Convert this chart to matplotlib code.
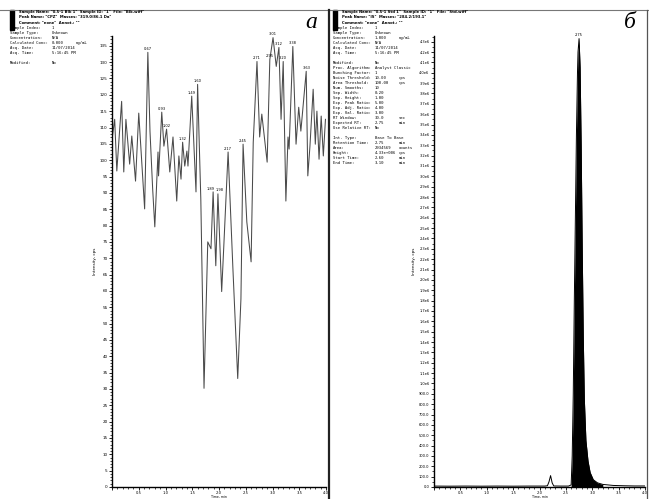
import matplotlib
matplotlib.use('Agg')
import matplotlib.pyplot as plt
from matplotlib.lines import Line2D
from matplotlib.patches import Rectangle
from matplotlib.ticker import MultipleLocator, FuncFormatter

W, H = 649, 499

# --- panel a: noisy trace (time, min / intensity, cps) ---
t_a = [0.00, 0.05, 0.09, 0.18, 0.22, 0.26, 0.33, 0.37, 0.44, 0.50, 0.61, 0.67, 0.71,
       0.76, 0.80, 0.86, 0.87, 0.93, 0.97, 1.02, 1.08, 1.14, 1.21, 1.25, 1.29, 1.32,
       1.36, 1.40, 1.42, 1.49, 1.57, 1.60, 1.66, 1.72, 1.79, 1.85, 1.89, 1.94, 1.98,
       2.05, 2.09, 2.17, 2.26, 2.35, 2.41, 2.45, 2.52, 2.60, 2.64, 2.71, 2.76, 2.80,
       2.90, 2.95, 3.01, 3.07, 3.12, 3.16, 3.20, 3.25, 3.29, 3.31, 3.38, 3.44, 3.49,
       3.53, 3.63, 3.66, 3.70, 3.76, 3.80, 3.83, 3.87, 3.91, 3.95, 3.99]
cps_a = [106.4, 112.5, 96.7, 118.0, 96.4, 112.5, 98.8, 107.4, 93.6, 114.4, 85.1, 133.0, 108.9,
         91.2, 79.6, 102.5, 95.2, 114.7, 104.3, 109.5, 96.4, 107.1, 87.5, 101.3, 94.2, 105.5,
         98.2, 102.8, 98.2, 119.6, 90.3, 123.2, 88.1, 30.2, 75.0, 72.9, 90.3, 67.7, 89.7,
         59.8, 73.8, 102.5, 66.8, 33.2, 57.6, 104.9, 81.1, 68.9, 105.5, 130.2, 107.1, 114.1,
         99.4, 130.8, 137.5, 128.7, 134.5, 112.5, 130.2, 87.5, 107.1, 103.4, 134.8, 104.9, 116.2,
         108.9, 127.2, 95.2, 104.3, 121.7, 104.9, 115.0, 100.3, 113.5, 101.3, 112.5]
labels_a = [11, 17, 19, 25, 29, 31, 36, 38, 41, 45, 49, 53, 54, 56, 58, 62, 66]

# --- panel b: internal standard trace (time, min / intensity, cps) ---
t_b = [0.00, 0.30, 0.60, 0.90, 1.20, 1.50, 1.80, 2.10, 2.15, 2.18, 2.21, 2.24, 2.27, 2.40,
       2.55, 2.60, 2.62, 2.64, 2.66, 2.68, 2.70, 2.72, 2.73, 2.75, 2.77, 2.79, 2.81, 2.83,
       2.85, 2.88, 2.92, 2.96, 3.02, 3.10, 3.20, 3.40, 3.60, 3.80, 4.00]
cps_b = [9e3, 8e3, 9e3, 8e3, 9e3, 8e3, 9e3, 9e3, 1.2e4, 5e4, 1.1e5, 4e4, 1.0e4, 9e3,
         9e3, 2e4, 3.0e5, 9.0e5, 1.8e6, 2.6e6, 3.4e6, 4.0e6, 4.2e6, 4.33e6, 4.05e6, 3.3e6, 2.3e6, 1.45e6,
         8.5e5, 4.5e5, 2.5e5, 1.4e5, 7e4, 4e4, 2.5e4, 1.5e4, 1.2e4, 1.0e4, 1.0e4]
labels_b = [23]

meta_a = [("Sample Index:", "1", ""), ("Sample Type:", "Unknown", ""),
          ("Concentration:", "N/A", ""), ("Calculated Conc:", "0.000", "ng/mL"),
          ("Acq. Date:", "11/07/2014", ""), ("Acq. Time:", "5:16:45 PM", ""),
          None, ("Modified:", "No", "")]
meta_b = [("Sample Index:", "1", ""), ("Sample Type:", "Unknown", ""),
          ("Concentration:", "1.000", "ng/mL"), ("Calculated Conc:", "N/A", ""),
          ("Acq. Date:", "11/07/2014", ""), ("Acq. Time:", "5:16:45 PM", ""),
          None, ("Modified:", "No", ""),
          ("Proc. Algorithm:", "Analyst Classic", ""), ("Bunching Factor:", "1", ""),
          ("Noise Threshold:", "10.00", "cps"), ("Area Threshold:", "100.00", "cps"),
          ("Num. Smooths:", "10", ""), ("Sep. Width:", "0.20", ""), ("Sep. Height:", "1.00", ""),
          ("Exp. Peak Ratio:", "5.00", ""), ("Exp. Adj. Ratio:", "4.00", ""),
          ("Exp. Val. Ratio:", "3.00", ""), ("RT Window:", "30.0", "sec"),
          ("Expected RT:", "2.75", "min"), ("Use Relative RT:", "No", ""),
          None, ("Int. Type:", "Base To Base", ""), ("Retention Time:", "2.75", "min"),
          ("Area:", "2934569", "counts"), ("Height:", "4.33e+006", "cps"),
          ("Start Time:", "2.60", "min"), ("End Time:", "3.10", "min")]

head_a = ['Sample Name: "0.5-1 Blk 1"  Sample ID: "1"  File: "Blk.wiff"',
          'Peak Name: "CPZ"  Masses: "319.0/86.1 Da"',
          'Comment: "none"  Annot.: ""']
head_b = ['Sample Name: "0.5-1 Std 1"  Sample ID: "1"  File: "Std.wiff"',
          'Peak Name: "IS"  Masses: "284.2/193.1"',
          'Comment: "none"  Annot.: ""']

fig = plt.figure(figsize=(W / 100, H / 100), dpi=100)


def fx(x):
    return x / W


def fy(y):
    return 1 - y / H


# frame lines
fig.add_artist(Line2D([0, 1], [fy(10), fy(10)], color='#777777', lw=0.8))
fig.add_artist(Line2D([fx(329), fx(329)], [fy(10), 0], color='#222222', lw=1.6))
fig.add_artist(Line2D([fx(647), fx(647)], [fy(10), 0], color='#555555', lw=0.9))


def header(x0, lines, meta, col2, col3):
    fig.add_artist(Rectangle((fx(x0), fy(30)), fx(4), fy(10) - fy(30), color='black'))
    for i, s in enumerate(lines):
        fig.text(fx(x0 + 9), fy(12.5 + 5 * i), s, fontsize=2.7, fontweight='bold',
                 family='DejaVu Sans', va='center', ha='left')
    for i, row in enumerate(meta):
        if row is None:
            continue
        y = fy(28 + 5 * i)
        fig.text(fx(x0), y, row[0], fontsize=2.8, family='DejaVu Sans Mono', va='center')
        fig.text(fx(x0 + col2), y, row[1], fontsize=2.8, family='DejaVu Sans Mono', va='center')
        fig.text(fx(x0 + col3), y, row[2], fontsize=2.8, family='DejaVu Sans Mono', va='center')


header(10, head_a, meta_a, 42, 66)
header(333, head_b, meta_b, 42, 66)


def style(ax):
    for s in ['top', 'right']:
        ax.spines[s].set_visible(False)
    for s in ['left', 'bottom']:
        ax.spines[s].set_linewidth(1.0)
    ax.set_xlim(0, 4.0)
    ax.xaxis.set_major_locator(MultipleLocator(0.5))
    ax.xaxis.set_minor_locator(MultipleLocator(0.1))
    ax.xaxis.set_major_formatter(FuncFormatter(lambda v, p: '' if v == 0 else f'{v:.1f}'))
    ax.tick_params(which='major', direction='out', length=2.2, width=0.6, labelsize=3, pad=1.0)
    ax.tick_params(which='minor', direction='out', length=1.2, width=0.5)
    ax.tick_params(axis='x', which='major', labelsize=2.7, pad=0.5)


BOTTOM = 487

# panel a
ax1 = fig.add_axes([fx(112), fy(BOTTOM), fx(326) - fx(112), fy(36) - fy(BOTTOM)])
ax1.plot(t_a, cps_a, color='#4a4a4a', lw=0.75)
ax1.set_ylim(0, 138)
ax1.yaxis.set_major_locator(MultipleLocator(5))
ax1.yaxis.set_minor_locator(MultipleLocator(1))
ax1.set_ylabel('Intensity, cps', fontsize=3, labelpad=2)
style(ax1)
for i in labels_a:
    dx = -1.5 if i == 36 else (1.5 if i == 38 else 0)
    ax1.annotate(f'{t_a[i]:.2f}', (t_a[i], cps_a[i]), xytext=(dx, 1), textcoords='offset points',
                 fontsize=2.6, ha='center', va='bottom', annotation_clip=False)

# panel b
ax2 = fig.add_axes([fx(434), fy(BOTTOM), fx(645) - fx(434), fy(36) - fy(BOTTOM)])
ax2.plot(t_b, cps_b, color='black', lw=0.7)
main = [i for i, t in enumerate(t_b) if 2.58 <= t <= 3.2]
ax2.fill_between([t_b[i] for i in main], 0, [cps_b[i] for i in main], color='black', lw=0)
ax2.set_ylim(0, 4.355e6)
ax2.yaxis.set_major_locator(MultipleLocator(1e5))
ax2.yaxis.set_minor_locator(MultipleLocator(5e4))
ax2.yaxis.set_major_formatter(FuncFormatter(
    lambda v, p: f'{v / 1e3:.1f}' if v < 1e6 else f'{v / 1e6:.1f}e6'))
ax2.set_ylabel('Intensity, cps', fontsize=3, labelpad=2)
style(ax2)
ax2.tick_params(axis='y', which='major', labelsize=2.6)
for i in labels_b:
    ax2.annotate(f'{t_b[i]:.2f}', (t_b[i], cps_b[i]), xytext=(0, 1), textcoords='offset points',
                 fontsize=2.6, ha='center', va='bottom', annotation_clip=False)

# x-axis titles (sit right at the bottom edge, as in the scan)
fig.text(fx(219), fy(497.3), 'Time, min', fontsize=2.3, ha='center', va='center')
fig.text(fx(540), fy(497.3), 'Time, min', fontsize=2.3, ha='center', va='center')

# panel letters
fig.text(fx(311), fy(22), 'a', fontsize=17, style='italic', family='Liberation Serif',
         ha='center', va='center')
fig.text(fx(630), fy(22), 'б', fontsize=17, style='italic', family='Liberation Serif',
         ha='center', va='center')

fig.savefig('out.png', dpi=100)
